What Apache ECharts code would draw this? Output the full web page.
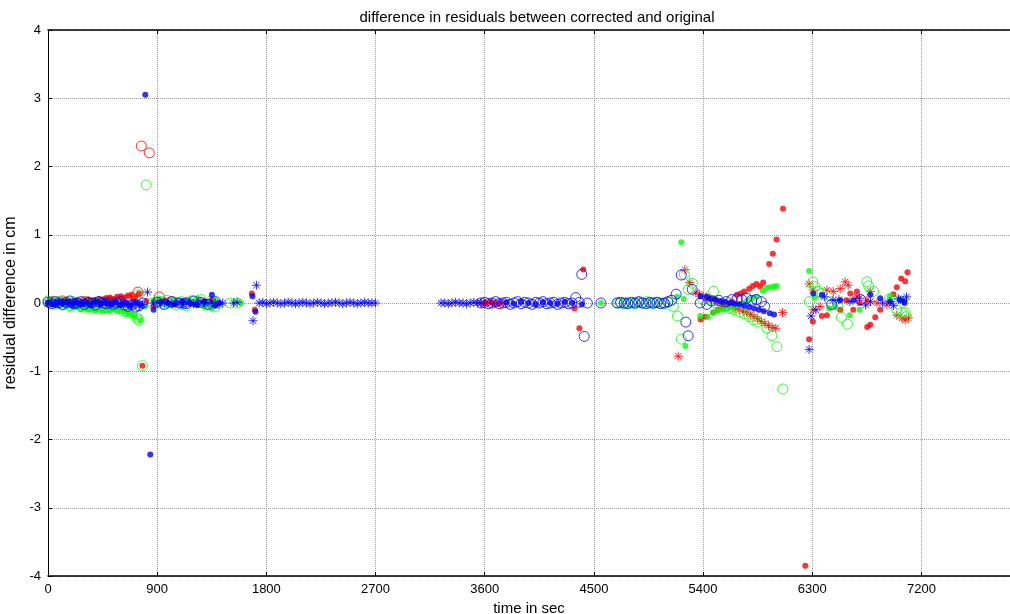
<!DOCTYPE html>
<html style="height: 100%">
<head>
    <meta charset="UTF-8">
    <title>Residual difference</title>
    <script type="text/javascript" src="https://cdn.jsdelivr.net/npm/echarts@6/dist/echarts.min.js"></script>
</head>
<body style="height: 100%; margin: 0; background: #fff">
    <div id="container" style="width: 1010px; height: 614px"></div>
<script>
    // [time in sec, residual difference in cm]
    var redDot = [
        [0,-0.02],[30,0.01],[60,-0.03],[90,0.02],[120,0.0],[150,0.03],[180,0.01],[210,0.02],[240,0.04],[270,0.02],
        [300,0.03],[330,0.05],[360,0.03],[390,0.04],[420,0.06],[450,0.05],[480,0.07],[510,0.08],[540,0.06],[570,0.09],
        [600,0.1],[630,0.08],[660,0.11],[690,0.12],[720,0.1],[750,0.14],[778,-0.92],[810,0.03],[870,-0.05],[960,0.04],
        [1020,-0.03],[1110,0.02],[1200,-0.02],[1290,0.03],[1350,0.05],[1680,0.14],[1705,-0.1],
        [3600,0.0],[3660,0.01],[3720,-0.01],[4340,-0.08],[4380,-0.37],[4412,0.49],
        [5380,-0.24],[5420,-0.2],[5483,-0.14],[5520,-0.1],[5560,-0.07],[5600,-0.03],[5640,0.02],[5679,0.12],
        [5710,0.14],[5739,0.17],[5780,0.21],[5810,0.25],[5840,0.28],[5870,0.24],[5895,0.3],[5945,0.57],
        [5975,0.72],[6005,0.93],[6059,1.38],
        [6242,-3.85],[6274,-0.53],[6305,-0.27],[6379,-0.19],[6421,-0.18],[6530,-0.1],[6580,0.04],[6613,0.14],
        [6638,-0.1],[6668,0.17],[6690,0.0],[6753,-0.35],[6778,-0.32],[6819,-0.21],[6860,-0.1],[6969,0.13],
        [6997,0.23],[7033,0.36],[7066,0.32],[7085,0.45]
    ];
    var redCircle = [
        [30,0.02],[120,0.03],[210,-0.01],[300,0.02],[390,0.01],[480,0.03],[570,0.02],[660,0.04],[741,0.16],
        [769,2.3],[835,2.2],[918,0.09],[1020,0.02],[1140,0.01]
    ];
    var redStar = [
        [60,0.0],[150,0.02],[240,0.01],[330,0.03],[420,0.02],[510,0.04],[600,0.05],[690,0.06],
        [3570,0.0],[3600,-0.01],[3630,0.01],[3660,0.0],[3690,-0.01],[3720,0.01],[3750,0.0],
        [5195,-0.78],[5250,0.49],[5290,0.3],
        [5340,0.15],[5370,0.13],[5400,0.1],[5430,0.09],[5460,0.06],[5490,0.05],[5520,0.02],[5550,0.0],
        [5580,-0.02],[5610,-0.04],[5640,-0.06],[5670,-0.08],[5700,-0.1],[5730,-0.12],[5760,-0.14],[5790,-0.17],
        [5820,-0.2],[5850,-0.23],[5880,-0.27],[5910,-0.3],[5940,-0.33],[5970,-0.36],[6000,-0.37],[6055,-0.14],
        [6274,0.28],[6308,0.19],[6308,-0.1],[6364,-0.05],[6421,0.19],[6473,0.17],[6530,0.21],[6571,0.31],
        [6596,0.26],[6668,0.09],[6750,0.04],[6778,0.17],[6833,0.0],[6915,-0.03],[6997,-0.18],[7039,-0.22],
        [7066,-0.25],[7093,-0.22]
    ];
    var greenDot = [
        [0,0.01],[30,-0.02],[60,0.02],[90,-0.03],[120,-0.01],[150,-0.05],[180,-0.04],[210,-0.07],[240,-0.06],
        [270,-0.09],[300,-0.08],[330,-0.1],[360,-0.09],[390,-0.11],[420,-0.1],[450,-0.12],[480,-0.1],[510,-0.11],
        [540,-0.09],[570,-0.12],[600,-0.1],[630,-0.13],[660,-0.15],[690,-0.17],[720,-0.2],[760,-0.25],[800,-0.05],
        [870,0.03],[930,0.06],[990,-0.04],[1050,0.05],[1110,-0.06],[1170,0.04],[1230,0.07],[1290,-0.05],
        [1350,-0.08],[1380,0.04],[1590,0.0],
        [4558,0.0],
        [5186,0.09],[5220,0.89],[5240,0.06],[5255,-0.63],
        [5376,-0.19],[5440,-0.2],[5483,-0.14],[5520,-0.12],[5560,-0.1],[5600,-0.08],[5640,-0.06],[5680,-0.03],
        [5720,-0.01],[5760,0.03],[5800,0.06],[5840,0.09],[5893,0.18],[5925,0.22],[5953,0.23],[5985,0.24],[6008,0.25],
        [6274,0.47],[6320,0.08],[6440,-0.08],[6490,-0.06],[6610,-0.18],[6690,-0.1],[6940,0.09],[7020,0.07],[7060,0.03]
    ];
    var greenCircle = [
        [0,0.03],[30,0.01],[60,-0.02],[90,0.02],[120,-0.03],[150,0.0],[180,-0.04],[210,0.02],[240,-0.02],
        [270,-0.05],[300,0.01],[330,-0.03],[360,-0.06],[390,-0.02],[420,0.0],[450,-0.04],[480,-0.07],[510,-0.03],
        [540,-0.05],[570,-0.02],[600,-0.08],[630,-0.12],[650,-0.13],[690,-0.15],[733,-0.22],[750,-0.25],[745,0.12],
        [778,-0.92],[810,1.73],[860,0.0],[900,0.03],[940,-0.02],[980,0.04],[1020,0.0],[1060,-0.03],[1100,0.02],
        [1140,-0.04],[1180,0.03],[1220,0.0],[1260,0.05],[1300,-0.03],[1340,0.02],[1380,-0.05],[1500,0.0],[1560,0.0],
        [4700,0.0],[4720,0.0],[4750,-0.01],[4780,0.01],[4810,0.0],[4840,-0.01],[4870,0.01],[4900,0.0],[4930,0.02],
        [4960,0.0],[4990,-0.01],[5020,0.01],[5050,0.0],[5080,-0.01],[5110,0.01],[5155,-0.05],
        [5188,-0.19],[5220,-0.53],[5245,0.42],[5278,0.2],[5311,0.29],
        [5400,0.05],[5460,0.04],[5486,0.17],[5500,0.0],[5540,-0.02],[5580,-0.05],[5620,-0.08],[5660,-0.1],
        [5700,-0.13],[5740,-0.16],[5780,-0.2],[5816,-0.25],[5850,-0.28],[5926,-0.37],[5967,-0.48],[6008,-0.64],
        [6058,-1.26],
        [6276,0.02],[6304,0.31],[6322,0.24],[6349,0.17],[6380,0.14],[6450,0.02],[6510,-0.03],[6540,-0.21],
        [6590,-0.31],[6750,0.31],[6764,0.25],[6805,0.17],[6940,0.07],[6997,-0.1],[7039,-0.14],[7066,-0.14],[7074,-0.2]
    ];
    var blueDot = [
        [0,0.0],[40,-0.02],[80,0.01],[120,-0.01],[160,0.02],[200,-0.03],[240,0.01],[280,-0.02],[320,0.0],
        [360,-0.03],[400,0.02],[440,-0.01],[480,0.0],[520,-0.02],[560,0.01],[600,-0.03],[640,0.0],[680,-0.04],
        [720,0.02],[760,-0.02],[802,3.05],[843,-2.22],[870,-0.1],[930,0.02],[990,0.0],[1050,-0.02],[1110,0.03],
        [1170,0.0],[1230,-0.03],[1290,0.02],[1351,0.12],[1380,-0.04],[1410,0.0],[1685,0.1],[1710,-0.13],
        [3780,0.01],[3840,-0.01],[3900,0.02],[3960,0.0],[4020,-0.02],[4080,0.01],[4140,0.0],[4200,-0.01],
        [4260,0.02],[4320,0.0],[4400,-0.02],
        [5380,0.1],[5431,0.09],[5460,0.06],[5500,0.05],[5540,0.03],[5580,0.02],[5620,0.0],[5660,-0.01],
        [5700,-0.02],[5740,-0.04],[5780,-0.06],[5820,-0.08],[5860,-0.1],[5900,-0.12],[5950,-0.15],[5985,-0.17],
        [6308,0.14],[6379,0.12],[6530,0.04],[6640,0.04],[6778,0.12],[6860,0.07],[6942,0.02],[7024,0.04],[7060,0.0]
    ];
    var blueCircle = [
        [0,0.01],[30,-0.01],[60,0.02],[90,0.0],[120,-0.02],[150,0.01],[180,0.03],[210,-0.01],[240,0.0],
        [270,0.02],[300,-0.02],[330,0.01],[360,0.0],[390,-0.03],[420,0.02],[450,0.0],[480,-0.01],[510,0.01],
        [540,-0.02],[570,0.0],[600,0.02],[630,-0.03],[660,-0.05],[690,-0.03],[720,-0.06],[750,-0.04],[780,0.0],
        [900,0.01],[960,-0.02],[1020,0.02],[1080,0.0],[1140,-0.01],[1200,0.03],[1260,0.01],[1320,-0.02],[1380,0.02],
        [3570,0.0],[3600,0.01],[3630,-0.01],[3660,0.0],[3690,0.02],[3720,-0.01],[3750,0.0],[3780,0.01],
        [3810,-0.02],[3840,0.0],[3870,0.02],[3900,-0.01],[3930,0.01],[3960,0.0],[3990,-0.02],[4020,0.01],
        [4050,0.0],[4080,0.02],[4110,-0.01],[4140,0.0],[4170,0.01],[4200,-0.02],[4230,0.0],[4260,0.01],
        [4290,-0.01],[4320,0.0],[4350,0.08],[4380,0.01],[4400,0.42],[4420,-0.49],[4446,0.0],[4558,0.0],
        [4690,0.0],[4720,0.01],[4750,0.0],[4780,-0.01],[4810,0.01],[4840,0.0],[4870,0.02],[4900,0.0],
        [4930,-0.01],[4960,0.01],[4990,0.0],[5020,0.01],[5050,-0.01],[5080,0.0],[5110,0.02],[5140,0.04],[5178,0.13],
        [5220,0.41],[5258,-0.28],[5277,-0.48],[5310,0.2],
        [5376,0.0],[5430,-0.02],[5470,0.03],[5530,0.04],[5590,0.02],[5637,0.05],[5680,0.06],[5720,0.05],
        [5760,0.07],[5800,0.04],[5840,0.05],[5880,0.02],[5907,-0.05],
        [6460,-0.02],[6700,0.05]
    ];
    var blueStar = [
        [0,0.0],[30,0.01],[60,-0.01],[90,0.0],[120,0.02],[150,-0.01],[180,0.0],[210,0.01],[240,-0.02],[270,0.0],
        [300,0.01],[330,-0.01],[360,0.0],[390,0.02],[420,-0.01],[450,0.0],[480,0.01],[510,-0.02],[540,0.0],[570,0.01],
        [600,-0.01],[630,0.0],[660,-0.03],[690,-0.02],[720,0.0],[750,-0.04],[780,-0.02],[820,0.16],[870,0.0],
        [900,0.01],[930,-0.01],[960,0.0],[990,0.02],[1020,-0.01],[1050,0.0],[1080,0.01],[1110,-0.02],[1140,0.0],
        [1170,0.01],[1200,-0.01],[1230,0.0],[1260,0.02],[1290,0.0],[1320,-0.01],[1350,0.01],[1380,0.0],
        [1410,-0.02],[1440,0.0],[1530,0.0],[1560,0.01],[1690,-0.26],[1718,0.26],
        [1740,0.0],[1770,0.01],[1800,-0.01],[1830,0.0],[1860,0.01],[1890,0.0],[1920,-0.01],[1950,0.0],
        [1980,0.01],[2010,0.0],[2040,-0.01],[2070,0.0],[2100,0.01],[2130,0.0],[2160,-0.01],[2190,0.0],
        [2220,0.01],[2250,0.0],[2280,-0.01],[2310,0.0],[2340,0.0],[2370,0.01],[2400,0.0],[2430,-0.01],
        [2460,0.0],[2490,0.01],[2520,0.0],[2550,-0.01],[2580,0.0],[2610,0.01],[2640,0.0],[2670,0.0],[2700,0.0],
        [3240,0.0],[3270,0.0],[3300,-0.01],[3330,0.0],[3360,0.01],[3390,0.0],[3420,0.0],[3450,-0.01],
        [3480,0.0],[3510,0.01],[3540,0.0],[3570,0.0],
        [6274,-0.68],[6290,-0.19],[6330,-0.1],[6400,0.09],[6470,0.04],[6520,0.05],[6610,0.02],[6690,0.07],
        [6740,-0.03],[6780,0.02],[6880,0.0],[6940,0.02],[6970,-0.04],[7010,0.06],[7050,0.04],[7077,0.09]
    ];

    var xTicks = [0, 900, 1800, 2700, 3600, 4500, 5400, 6300, 7200];
    var yTicks = [-4, -3, -2, -1, 0, 1, 2, 3, 4];

    var RED = '#ff0000', GREEN = '#00ff00', BLUE = '#0000ff';
    var STAR = 'path://M5 0L5 10M0 5L10 5M1.5 1.5L8.5 8.5M1.5 8.5L8.5 1.5';

    function mk(data, color, kind) {
        var s = {type: 'scatter', data: data, animation: false, silent: true};
        if (kind === 'dot') {
            s.symbol = 'circle'; s.symbolSize = 6;
            s.itemStyle = {color: color};
        } else if (kind === 'circle') {
            s.symbol = 'circle'; s.symbolSize = 10;
            s.itemStyle = {color: 'none', borderColor: color, borderWidth: 1};
        } else {
            s.symbol = STAR; s.symbolSize = 9;
            s.itemStyle = {color: 'none', borderColor: color, borderWidth: 1, opacity: 0.8};
        }
        return s;
    }

    var font = 'Liberation Sans, Arial, sans-serif';
    var chart = echarts.init(document.getElementById('container'));
    var option = {
        backgroundColor: '#fff',
        title: {
            text: 'difference in residuals between corrected and original',
            left: 532, top: 5, textAlign: 'center',
            textStyle: {fontSize: 15, fontWeight: 'normal', color: '#000', fontFamily: font}
        },
        grid: {left: 48, right: 0, top: 30, bottom: 38, outerBoundsMode: 'none'},
        xAxis: [{
            type: 'value', min: 0, max: 7930, interval: 900, position: 'bottom',
            name: 'time in sec', nameLocation: 'middle', nameGap: 21,
            nameTextStyle: {fontSize: 15, color: '#000', fontFamily: font},
            axisLine: {onZero: false, lineStyle: {color: '#000', width: 1.5}},
            axisTick: {inside: true, length: 4, lineStyle: {color: '#000'}},
            axisLabel: {
                color: '#000', fontSize: 13, fontFamily: font, margin: 7,
                formatter: function (v) { return xTicks.indexOf(v) >= 0 ? String(v) : ''; }
            },
            splitLine: {show: true, lineStyle: {color: '#9a9a9a', type: 'dotted', width: 1}}
        }, {
            type: 'value', min: 0, max: 7930, interval: 900, position: 'top',
            axisLine: {onZero: false, lineStyle: {color: '#000', width: 1.5}},
            axisTick: {inside: true, length: 4, lineStyle: {color: '#000'}},
            axisLabel: {show: false},
            splitLine: {show: false}
        }],
        yAxis: {
            type: 'value', min: -4, max: 4, interval: 1,
            name: 'residual difference in cm', nameLocation: 'middle', nameGap: 12,
            nameTextStyle: {fontSize: 16, color: '#000', fontFamily: font},
            axisLine: {show: true, onZero: false, lineStyle: {color: '#000', width: 1}},
            axisTick: {show: true, inside: true, length: 4, lineStyle: {color: '#000'}},
            axisLabel: {
                color: '#000', fontSize: 13, fontFamily: font, margin: 7,
                formatter: function (v) { return yTicks.indexOf(v) >= 0 ? String(v) : ''; }
            },
            splitLine: {show: true, lineStyle: {color: '#9a9a9a', type: 'dotted', width: 1}}
        },
        series: [
            mk(redDot, RED, 'dot'),
            mk(redCircle, RED, 'circle'),
            mk(redStar, RED, 'star'),
            mk(greenDot, GREEN, 'dot'),
            mk(greenCircle, GREEN, 'circle'),
            mk(blueDot, BLUE, 'dot'),
            mk(blueCircle, BLUE, 'circle'),
            mk(blueStar, BLUE, 'star')
        ]
    };
    chart.setOption(option);
</script>
</body>
</html>
